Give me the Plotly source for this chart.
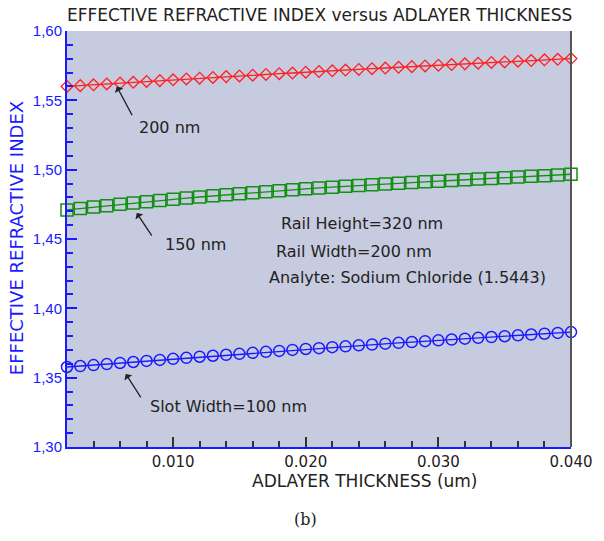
import plotly.graph_objects as go

# ---- data ----
thickness = [0.002, 0.003, 0.004, 0.005, 0.006, 0.007, 0.008, 0.009, 0.010, 0.011,
             0.012, 0.013, 0.014, 0.015, 0.016, 0.017, 0.018, 0.019, 0.020, 0.021,
             0.022, 0.023, 0.024, 0.025, 0.026, 0.027, 0.028, 0.029, 0.030, 0.031,
             0.032, 0.033, 0.034, 0.035, 0.036, 0.037, 0.038, 0.039, 0.040]

neff_200 = [1.5600, 1.5606, 1.5612, 1.5618, 1.5624, 1.5630, 1.5636, 1.5642, 1.5648, 1.5654,
            1.5660, 1.5665, 1.5671, 1.5676, 1.5681, 1.5687, 1.5692, 1.5697, 1.5703, 1.5708,
            1.5713, 1.5718, 1.5723, 1.5728, 1.5733, 1.5738, 1.5743, 1.5748, 1.5753, 1.5758,
            1.5763, 1.5768, 1.5773, 1.5777, 1.5782, 1.5787, 1.5792, 1.5796, 1.5801]

neff_150 = [1.4710, 1.4720, 1.4730, 1.4740, 1.4750, 1.4759, 1.4768, 1.4777, 1.4786, 1.4795,
            1.4803, 1.4811, 1.4819, 1.4827, 1.4834, 1.4841, 1.4848, 1.4855, 1.4862, 1.4868,
            1.4874, 1.4880, 1.4886, 1.4892, 1.4897, 1.4902, 1.4907, 1.4912, 1.4917, 1.4922,
            1.4927, 1.4932, 1.4937, 1.4942, 1.4947, 1.4952, 1.4957, 1.4962, 1.4967]

neff_100 = [1.3577, 1.3584, 1.3591, 1.3598, 1.3606, 1.3613, 1.3621, 1.3628, 1.3636, 1.3643,
            1.3651, 1.3658, 1.3665, 1.3672, 1.3679, 1.3686, 1.3693, 1.3700, 1.3707, 1.3713,
            1.3720, 1.3726, 1.3733, 1.3739, 1.3745, 1.3751, 1.3757, 1.3763, 1.3769, 1.3775,
            1.3781, 1.3787, 1.3793, 1.3799, 1.3805, 1.3811, 1.3817, 1.3823, 1.3829]

y_tickvals = [1.30, 1.35, 1.40, 1.45, 1.50, 1.55, 1.60]
y_ticktext = ["1,30", "1,35", "1,40", "1,45", "1,50", "1,55", "1,60"]
x_tickvals = [0.010, 0.020, 0.030, 0.040]
x_ticktext = ["0.010", "0.020", "0.030", "0.040"]

title_text = "EFFECTIVE REFRACTIVE INDEX versus ADLAYER THICKNESS"
xtitle_text = "ADLAYER THICKNESS (um)"
ytitle_text = "EFFECTIVE REFRACTIVE INDEX"
info_lines = ["Rail Height=320 nm", "Rail Width=200 nm", "Analyte: Sodium Chloride (1.5443)"]

# ---- figure ----
W, H = 604, 541
L, R, T, B = 67, 31, 31, 94
PW, PH = W - L - R, H - T - B
FONT = "DejaVu Sans"
TICKFONT = "Liberation Sans"
BLUE = "#1a1aff"
INK = "#222222"


def px(xp):
    return (xp - L) / PW


def py(yp):
    return (T + PH - yp) / PH


fig = go.Figure()
fig.add_trace(go.Scatter(x=thickness, y=neff_200, mode="lines+markers",
                         line=dict(color="#ff2020", width=1.3),
                         marker=dict(symbol="diamond-open", size=9, color="#ff2020",
                                     line=dict(width=1.3)),
                         cliponaxis=False, showlegend=False))
fig.add_trace(go.Scatter(x=thickness, y=neff_150, mode="lines+markers",
                         line=dict(color="#109010", width=1.3),
                         marker=dict(symbol="square-open", size=12, color="#109010",
                                     line=dict(width=1.5)),
                         cliponaxis=False, showlegend=False))
fig.add_trace(go.Scatter(x=thickness, y=neff_100, mode="lines+markers",
                         line=dict(color=BLUE, width=1.3),
                         marker=dict(symbol="circle-open", size=11, color=BLUE,
                                     line=dict(width=1.5)),
                         cliponaxis=False, showlegend=False))

annotations = []
# arrows
arrows = [
    (thickness[4] - 0.00024, neff_200[4] - 0.0025, 16, 30),
    (thickness[5] + 0.00026, neff_150[5] - 0.0072, 16, 24),
    (thickness[4] + 0.00043, neff_100[4] - 0.0079, 16, 25),
]
for xa, ya, axo, ayo in arrows:
    annotations.append(dict(x=xa, y=ya, xref="x", yref="y", text="", showarrow=True,
                            ax=axo, ay=ayo, arrowhead=1, arrowsize=1.2, arrowwidth=1.3,
                            arrowcolor=INK))

labels = [
    ("200 nm", 137, 128),
    ("150 nm", 163, 245),
    ("Slot Width=100 nm", 148, 406),
    (info_lines[0], 280, 223),
    (info_lines[1], 275, 251),
    (info_lines[2], 268, 277),
]
for txt, xp, yp in labels:
    annotations.append(dict(x=px(xp), y=py(yp), xref="paper", yref="paper", text=txt,
                            showarrow=False, xanchor="left", yanchor="middle",
                            font=dict(family=FONT, size=16, color=INK)))

annotations.append(dict(x=px(321), y=py(15), xref="paper", yref="paper", text=title_text,
                        showarrow=False, xanchor="center", yanchor="middle",
                        font=dict(family=FONT, size=17, color=INK)))
annotations.append(dict(x=px(366), y=py(481), xref="paper", yref="paper", text=xtitle_text,
                        showarrow=False, xanchor="center", yanchor="middle",
                        font=dict(family=FONT, size=17, color=INK)))
annotations.append(dict(x=px(16), y=py(238), xref="paper", yref="paper", text=ytitle_text,
                        showarrow=False, xanchor="center", yanchor="middle", textangle=-90,
                        font=dict(family=FONT, size=18, color=BLUE)))
annotations.append(dict(x=px(306), y=py(519), xref="paper", yref="paper", text="(b)",
                        showarrow=False, xanchor="center", yanchor="middle",
                        font=dict(family="DejaVu Serif", size=16, color=INK)))

fig.update_layout(
    width=W, height=H,
    margin=dict(l=L, r=R, t=T, b=B),
    paper_bgcolor="white",
    plot_bgcolor="#c7cbe0",
    annotations=annotations,
    shapes=[dict(type="line", xref="paper", yref="paper", x0=1, x1=1, y0=0, y1=1,
                 line=dict(color="#555555", width=2))],
)
fig.update_xaxes(range=[0.002, 0.040], showgrid=False, zeroline=False,
                 showline=True, linecolor=BLUE, linewidth=2,
                 tickmode="array", tickvals=x_tickvals, ticktext=x_ticktext,
                 ticks="inside", ticklen=10, tickwidth=1.5, tickcolor="#333333",
                 tickfont=dict(family=FONT, size=15, color=INK),
                 minor=dict(tickmode="linear", tick0=0.002, dtick=0.002, ticks="inside",
                            ticklen=6, tickwidth=1.5, tickcolor="#333333", showgrid=False))
fig.update_yaxes(range=[1.30, 1.60], showgrid=False, zeroline=False,
                 showline=True, linecolor=BLUE, linewidth=2,
                 tickmode="array", tickvals=y_tickvals, ticktext=y_ticktext,
                 ticks="inside", ticklen=10, tickwidth=2, tickcolor=BLUE,
                 tickfont=dict(family=TICKFONT, size=15, color=BLUE),
                 minor=dict(tickmode="linear", tick0=1.30, dtick=0.01, ticks="inside",
                            ticklen=6, tickwidth=2, tickcolor=BLUE, showgrid=False))

fig.write_html("out.html")
